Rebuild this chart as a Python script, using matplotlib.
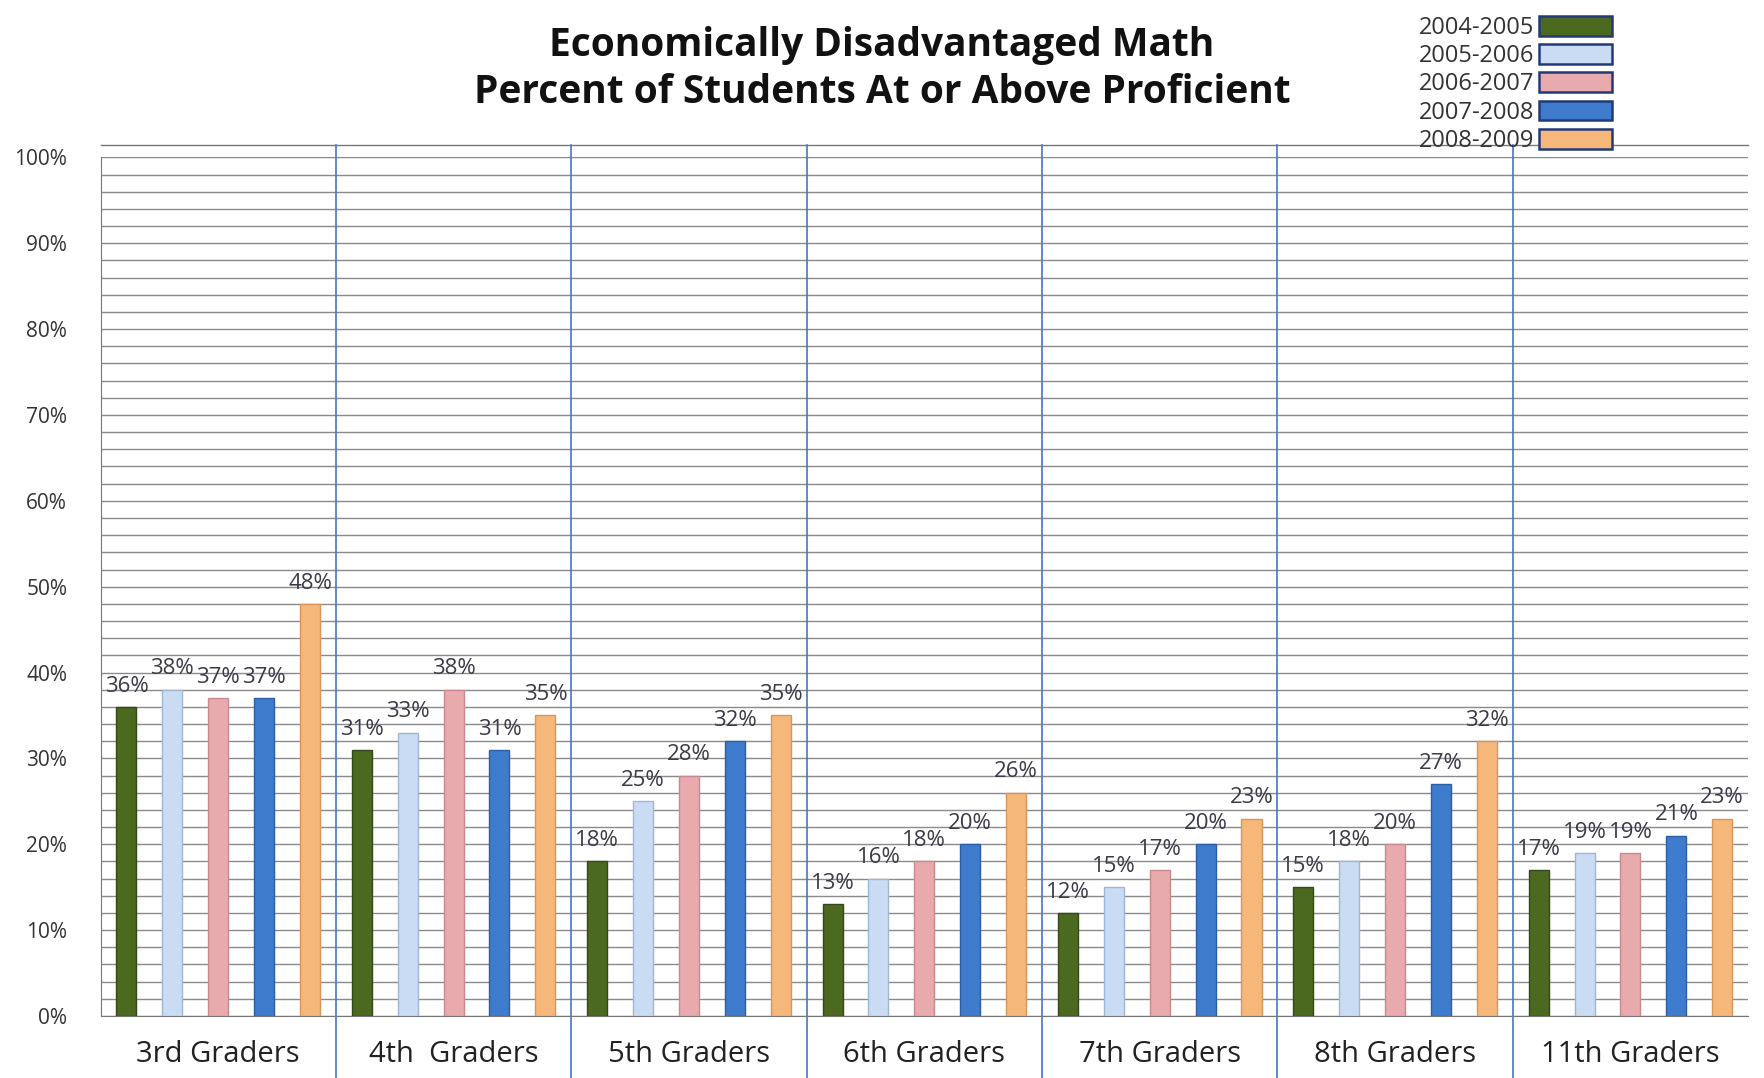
import matplotlib
matplotlib.use("Agg")
import matplotlib.pyplot as plt
import numpy as np
from matplotlib.patches import Patch

categories = ["3rd Graders", "4th  Graders", "5th Graders", "6th Graders",
              "7th Graders", "8th Graders", "11th Graders"]
years = ["2004-2005", "2005-2006", "2006-2007", "2007-2008", "2008-2009"]
v0405 = [36, 31, 18, 13, 12, 15, 17]
v0506 = [38, 33, 25, 16, 15, 18, 19]
v0607 = [37, 38, 28, 18, 17, 20, 19]
v0708 = [37, 31, 32, 20, 20, 27, 21]
v0809 = [48, 35, 35, 26, 23, 32, 23]
series = [v0405, v0506, v0607, v0708, v0809]
colors = ["#4b6a1f", "#c9dcf3", "#e9aaae", "#3f7bcc", "#f6b77b"]
edges = ["#33491a", "#9fb6d6", "#c98a8e", "#2c5ea3", "#d9965a"]

plt.rcParams["font.family"] = ["Open Sans", "DejaVu Sans"]
fig = plt.figure(figsize=(17.64, 10.78), dpi=100)
ax = fig.add_axes([0.057, 0.0575, 0.934, 0.7965])

x = np.arange(len(categories))
offsets = [-0.39, -0.195, 0.0, 0.195, 0.39]
bw = 0.085
for s, off, c, e in zip(series, offsets, colors, edges):
    ax.bar(x + off, s, width=bw, color=c, edgecolor=e, linewidth=1.0, zorder=3)
    for xi, v in zip(x + off, s):
        ax.text(xi, v + 1.2, f"{v}%", ha="center", va="bottom", fontsize=16,
                color="#3a3a48", zorder=4)

ax.set_xlim(-0.5, len(categories) - 0.5)
ax.set_ylim(0, 100)
ax.set_yticks(np.arange(0, 101, 10))
ax.set_yticklabels([f"{t}%" for t in range(0, 101, 10)], fontsize=15, color="#333333")
ax.set_yticks(np.arange(0, 101, 2), minor=True)
ax.yaxis.grid(True, which="both", color="#8a8a8a", linewidth=1.0, zorder=0)
ax.tick_params(axis="y", which="both", length=0, pad=24)
ax.set_xticks(x)
ax.set_xticklabels(categories, fontsize=21, color="#222222")
ax.tick_params(axis="x", length=0, pad=17)
for sp in ["top", "right"]:
    ax.spines[sp].set_visible(False)
ax.spines["left"].set_color("#777777")
ax.spines["bottom"].set_color("#777777")

# group separators
for b in np.arange(0.5, len(categories) - 0.5, 1.0):
    ax.plot([b, b], [-7.5, 101.5], color="#4a74c6", linewidth=1.2,
            clip_on=False, zorder=2)
ax.plot([-0.5, len(categories) - 0.5], [101.5, 101.5], color="#777777",
        linewidth=1.0, clip_on=False, zorder=2)

fig.text(0.50, 0.958, "Economically Disadvantaged Math", ha="center", va="center",
         fontsize=28, fontweight="bold", color="#111111")
fig.text(0.50, 0.914, "Percent of Students At or Above Proficient", ha="center",
         va="center", fontsize=28, fontweight="bold", color="#111111")

handles = [Patch(facecolor=c, edgecolor="#23397a", linewidth=1.8) for c in colors]
fig.legend(handles, years, loc="upper right", bbox_to_anchor=(0.926, 1.005),
           markerfirst=False, frameon=False, fontsize=17, handlelength=3.1,
           handleheight=0.9, labelspacing=0.18, handletextpad=0.2,
           labelcolor="#333333")

fig.savefig("out.png", dpi=100, facecolor="white")
